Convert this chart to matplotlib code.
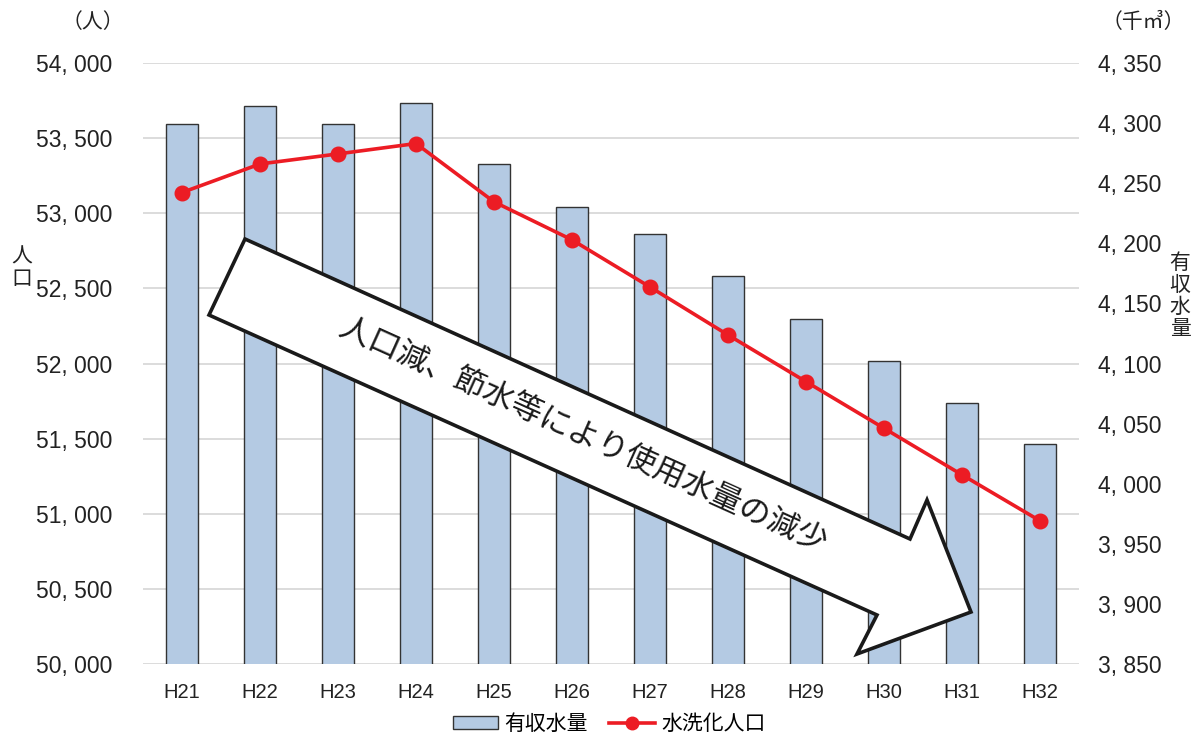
import matplotlib
matplotlib.use("Agg")
import matplotlib.pyplot as plt
from matplotlib.patches import Polygon
from matplotlib.lines import Line2D
from matplotlib.patches import Patch
import numpy as np

categories = ["H21", "H22", "H23", "H24", "H25", "H26", "H27", "H28", "H29", "H30", "H31", "H32"]
water_volume = [4299, 4314, 4299, 4317, 4266, 4230, 4208, 4173, 4137, 4102, 4067, 4033]  # 有収水量 (千㎥)
population = [53138, 53328, 53395, 53464, 53076, 52823, 52509, 52190, 51879, 51569, 51259, 50953]  # 水洗化人口 (人)
left_ticks = [50000, 50500, 51000, 51500, 52000, 52500, 53000, 53500, 54000]
right_ticks = [3850, 3900, 3950, 4000, 4050, 4100, 4150, 4200, 4250, 4300, 4350]

JP = ["Noto Sans CJK JP", "DejaVu Sans"]
NUM = ["Liberation Sans Narrow", "Liberation Sans", "DejaVu Sans"]
plt.rcParams["font.family"] = JP

W, H = 1193, 737
fig = plt.figure(figsize=(W / 100, H / 100), dpi=100)
ax = fig.add_axes([143 / W, 1 - 664 / H, (1079 - 143) / W, (664 - 63) / H])
ax2 = ax.twinx()   # bars (right axis)
ax3 = ax.twinx()   # line (left scale)

x = np.arange(len(categories))
bar_color = "#B4CAE3"
red = "#EC1C24"
txt = "#222222"

# Left axis: grid + tick labels
ax.set_ylim(50000, 54000)
ax.set_yticks(left_ticks)
ax.set_yticklabels([f"{v:,}".replace(",", ", ") for v in left_ticks], fontfamily=NUM, fontsize=16.5, color=txt)
ax.grid(axis="y", color="#D9D9D9", linewidth=1.3)
ax.set_xlim(-0.5, len(categories) - 0.5)
ax.set_xticks(x)
ax.set_xticklabels(categories, fontfamily=NUM, fontsize=14.5, color=txt)

# Right axis: bars
ax2.bar(x, water_volume, width=0.41, color=bar_color, edgecolor="#333333", linewidth=1.0, zorder=2)
ax2.set_ylim(3850, 4350)
ax2.set_yticks(right_ticks)
ax2.set_yticklabels([f"{v:,}".replace(",", ", ") for v in right_ticks], fontfamily=NUM, fontsize=16.5, color=txt)

# Line on left scale
ax3.plot(x, population, color=red, linewidth=2.6, marker="o", markersize=10.5, zorder=5)
ax3.set_ylim(ax.get_ylim())
ax3.set_yticks([])

ax.set_zorder(0)
ax2.set_zorder(1)
ax3.set_zorder(2)
ax2.patch.set_visible(False)
ax3.patch.set_visible(False)

for a in (ax, ax2, ax3):
    for s in a.spines.values():
        s.set_visible(False)
    a.tick_params(length=0)
ax.tick_params(axis="y", pad=22)
ax.tick_params(axis="x", pad=14)
ax2.tick_params(axis="y", pad=14)

# Axis titles
fig.text(93 / W, 1 - 22 / H, "（人）", ha="center", va="center", fontsize=15, color=txt)
fig.text(1143 / W, 1 - 22 / H, "（千㎥）", ha="center", va="center", fontsize=15, color=txt)
fig.text(22 / W, 1 - 268 / H, "人\n口", ha="center", va="center", fontsize=15, color=txt, linespacing=1.05)
fig.text(1180 / W, 1 - 296 / H, "有\n収\n水\n量", ha="center", va="center", fontsize=15, color=txt, linespacing=1.0)

# Big arrow annotation
pts_px = [(245, 239), (910, 539), (927, 500), (971, 612), (857, 654), (877, 615), (209, 315)]
pts = [(px / W, 1 - py / H) for px, py in pts_px]
arrow = Polygon(pts, closed=True, facecolor="white", edgecolor="#1A1A1A", linewidth=2.6,
                transform=fig.transFigure, zorder=10, clip_on=False, joinstyle="miter")
ax2.add_patch(arrow)
fig.text(583 / W, 1 - 436 / H, "人口減、節水等により使用水量の減少", ha="center", va="center",
         rotation=-24.3, rotation_mode="anchor", fontsize=22.5, color="#1A1A1A", zorder=11)

# Legend
handles = [Patch(facecolor=bar_color, edgecolor="#333333", linewidth=1.0),
           Line2D([0], [0], color=red, linewidth=2.6, marker="o", markersize=9)]
fig.legend(handles, ["有収水量", "水洗化人口"], loc="center", bbox_to_anchor=(609 / W, 1 - 724 / H),
           ncol=2, frameon=False, fontsize=15, handlelength=2.2, handleheight=0.6,
           columnspacing=1.0, handletextpad=0.3)

fig.savefig("out.png", dpi=100)
